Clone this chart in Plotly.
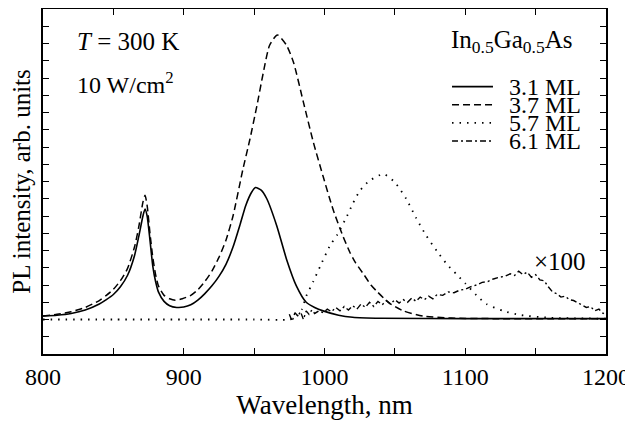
import plotly.graph_objects as go

# ---- data ----
wl_31 = [800, 810, 820, 830, 840, 845, 850, 855, 860, 865, 868, 871, 872.5, 874, 876, 878, 880, 882, 886, 890, 895, 900,
         905, 910, 915, 920, 925, 930, 935, 940, 944, 948, 951, 955, 959, 966, 973, 980, 987, 993, 999, 1010, 1020,
         1040, 1100, 1200]
pl_31 = [0.2, 0.25, 0.35, 0.55, 0.9, 1.15, 1.45, 1.9, 2.55, 3.7, 4.8, 6.0, 6.4, 6.0, 4.6, 3.1, 2.2, 1.6, 1.05, 0.8, 0.7,
         0.72, 0.85, 1.12, 1.5, 1.95, 2.5, 3.2, 4.2, 5.5, 6.6, 7.35, 7.65, 7.5, 7.0, 5.45, 3.5, 1.95, 1.0, 0.7, 0.5, 0.25,
         0.13, 0.07, 0.05, 0.05]

wl_37 = [800, 810, 820, 830, 840, 845, 850, 855, 860, 865, 868, 871, 872.5, 874, 876, 878, 880, 882, 886, 890, 894, 899,
         905, 910, 915, 920, 925, 930, 935, 942, 947, 952, 956.5, 961, 966.5, 973, 978, 985, 992, 999, 1006, 1013, 1018,
         1022, 1028, 1033, 1037, 1046, 1056, 1070, 1090, 1120, 1200]
pl_37 = [0.2, 0.3, 0.45, 0.7, 1.1, 1.4, 1.75, 2.25, 2.95, 4.2, 5.35, 6.8, 7.2, 6.6, 5.0, 3.6, 2.6, 1.95, 1.4, 1.2, 1.12,
         1.2, 1.4, 1.72, 2.2, 2.8, 3.6, 4.6, 6.0, 8.7, 10.45, 12.4, 14.3, 15.9, 16.5, 15.9, 14.9, 12.6, 10.3, 8.3, 6.4,
         4.85, 3.9, 3.3, 2.6, 2.0, 1.65, 0.95, 0.5, 0.2, 0.08, 0.05, 0.05]

wl_57 = [800, 850, 900, 950, 975, 980, 984, 987, 992, 997, 1004, 1009, 1016, 1020, 1025, 1032, 1042, 1050, 1058, 1065,
         1072, 1080, 1087, 1094, 1100, 1108, 1115, 1127, 1139, 1160, 1200]
pl_57 = [0, 0, 0, 0, 0, 0.15, 0.6, 1.35, 2.2, 3.1, 4.3, 4.9, 6.0, 6.7, 7.45, 8.05, 8.43, 7.95, 7.0, 5.9,
         4.9, 3.95, 3.2, 2.6, 2.1, 1.4, 0.9, 0.5, 0.26, 0.1, 0.05]

wl_61 = [975, 977, 979, 981, 983, 985, 987, 989, 991, 993, 996, 999, 1002, 1005, 1008, 1011, 1014, 1017, 1020, 1023,
         1026, 1029, 1032, 1035, 1038, 1041, 1044, 1047, 1050, 1053, 1056, 1059, 1062, 1065, 1068, 1071, 1074, 1077,
         1080, 1084, 1088, 1092, 1096, 1100, 1104, 1108, 1112, 1116, 1120, 1124, 1128, 1132, 1135, 1138, 1141, 1144,
         1147, 1150, 1153, 1156, 1159, 1162, 1165, 1168, 1171, 1174, 1177, 1180, 1183, 1186, 1189, 1192, 1195, 1198, 1200]
pl_61 = [0.3, -0.1, 0.4, 0.2, 0.45, 0.0, 0.5, 0.3, 0.55, 0.35, 0.5, 0.4, 0.6, 0.45, 0.7, 0.5, 0.75, 0.55, 0.8, 0.6,
         0.9, 0.7, 1.0, 0.75, 1.05, 0.85, 1.1, 0.9, 1.15, 0.95, 1.15, 1.0, 1.25, 1.05, 1.3, 1.15, 1.35, 1.2,
         1.45, 1.4, 1.6, 1.55, 1.7, 1.75, 1.9, 2.0, 2.15, 2.2, 2.35, 2.45, 2.5, 2.65, 2.55, 2.8, 2.6, 2.75,
         2.45, 2.6, 2.3, 2.25, 1.9, 1.6, 1.5, 1.3, 1.35, 1.15, 1.1, 0.95, 0.85, 0.7, 0.75, 0.5, 0.6, 0.35, 0.45]

x_tickvals = [800, 850, 900, 950, 1000, 1050, 1100, 1150, 1200]
x_ticktext = ["800", " ", "900", " ", "1000", " ", "1100", " ", "1200"]

series_names = ["3.1 ML", "3.7 ML", "5.7 ML", "6.1 ML"]

FONT = "Liberation Serif, Times New Roman, Times, serif"
dashes = ["solid", "7px,4px", "1.5px,6px", "6px,3px,2px,3px"]
widths = [1.6, 1.5, 1.8, 1.4]

fig = go.Figure()
data = [(wl_31, pl_31), (wl_37, pl_37), (wl_57, pl_57), (wl_61, pl_61)]
for i, (xs, ys) in enumerate(data):
    fig.add_trace(go.Scatter(
        x=xs, y=ys, mode="lines", name=series_names[i], showlegend=False,
        line=dict(color="black", width=widths[i], dash=dashes[i],
                  shape="linear" if i == 3 else "spline", smoothing=0.6),
    ))

# legend drawn manually (tight line spacing as in the reference)
leg_y = [13.5, 12.45, 11.4, 10.35]
for i, name in enumerate(series_names):
    fig.add_shape(type="line", xref="x", yref="y", x0=1090.6, x1=1119.7, y0=leg_y[i], y1=leg_y[i],
                  line=dict(color="black", width=widths[i], dash=dashes[i]))
    fig.add_annotation(x=1129.5, y=leg_y[i], xref="x", yref="y", text=name, showarrow=False,
                       xanchor="left", yanchor="middle", font=dict(family=FONT, size=24, color="black"))

fig.add_annotation(x=1178, y=16.1, xref="x", yref="y",
                   text="In<sub>0.5</sub>Ga<sub>0.5</sub>As", showarrow=False,
                   xanchor="right", yanchor="middle", font=dict(family=FONT, size=25, color="black"))
fig.add_annotation(x=823.0, y=16.1, xref="x", yref="y", text="<i>T</i> = 300 K", showarrow=False,
                   xanchor="left", yanchor="middle", font=dict(family=FONT, size=25, color="black"))
fig.add_annotation(x=823.0, y=13.7, xref="x", yref="y", text="10 W/cm<sup>2</sup>", showarrow=False,
                   xanchor="left", yanchor="middle", font=dict(family=FONT, size=24, color="black"))
fig.add_annotation(x=1187, y=3.35, xref="x", yref="y", text="×100", showarrow=False,
                   xanchor="right", yanchor="middle", font=dict(family=FONT, size=25, color="black"))

# the page body adds an 8 px offset, so the figure is 8 px smaller and margins compensate
fig.update_layout(
    width=625, height=413,
    margin=dict(l=35, r=27, t=1, b=67, autoexpand=False),
    paper_bgcolor="white", plot_bgcolor="white",
    font=dict(family=FONT, color="black"),
    showlegend=False,
)
fig.update_xaxes(
    range=[800, 1200], tickmode="array", tickvals=x_tickvals, ticktext=x_ticktext,
    ticks="inside", ticklen=6, tickwidth=1.2, tickcolor="black",
    showline=True, linecolor="black", linewidth=1.6, mirror="ticks",
    showgrid=False, zeroline=False, automargin=False,
    tickfont=dict(family=FONT, size=24, color="black"),
    title=dict(text="Wavelength, nm", font=dict(family=FONT, size=27, color="black"), standoff=2),
)
fig.update_yaxes(
    range=[-2, 18], tick0=0, dtick=1,
    ticks="inside", ticklen=6, tickwidth=1.2, tickcolor="black",
    showline=True, linecolor="black", linewidth=1.6, mirror="ticks",
    showgrid=False, zeroline=False, showticklabels=False, automargin=False,
    title=dict(text="PL intensity, arb. units", font=dict(family=FONT, size=25, color="black"), standoff=8),
)

fig.write_html("out.html")
